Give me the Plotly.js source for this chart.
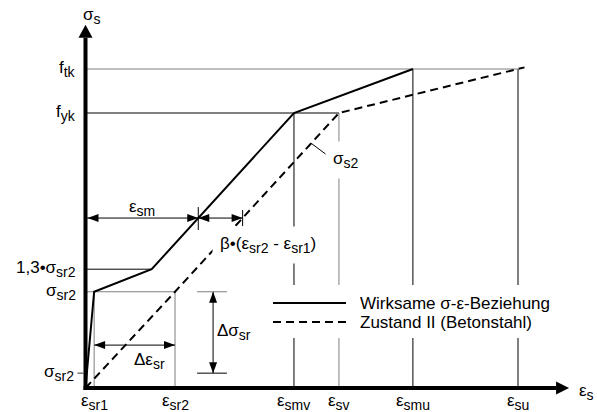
<!DOCTYPE html>
<html><head><meta charset="utf-8">
<script src="https://cdn.plot.ly/plotly-3.0.1.min.js"></script>
<style>html,body{margin:0;padding:0;background:#fff;}#chart{width:597px;height:412px;}</style>
</head><body><div id="chart"></div>
<script>
const S = t => '<sub><span style="font-size:14px">' + t + '</span></sub>';
// ---------- data (schematic units) ----------
const epsLabels = ['ε' + S('sr1'), 'ε' + S('sr2'), 'ε' + S('smv'), 'ε' + S('sv'), 'ε' + S('smu'), 'ε' + S('su')];
const epsValues = [0.2, 2.07, 4.82, 5.86, 7.57, 10.0];
const epsRefTop = [175, 175, 500, 500, 580, 580];

const sigLabels = ['f' + S('tk'), 'f' + S('yk'), '1,3•σ' + S('sr2'), 'σ' + S('sr2'), 'σ' + S('sr2')];
const sigValues = [580, 500, 216, 175, 27];
const sigRefEnd = [10.0, 5.86, 1.53, 2.07, 0];

// effective stress-strain relation (tension stiffening)
const effEps = [0, 0.2, 1.53, 4.82, 7.57];
const effSig = [0, 175, 216, 500, 580];
// state II (bare reinforcing steel)
const bareEps = [0, 2.07, 5.86, 10.15];
const bareSig = [0, 175, 500, 583];

const seriesNames = ['Wirksame σ-ε-Beziehung', 'Zustand II (Betonstahl)'];

// dimension markers
const epsSmLevel = 309;     // stress level where eps_sm is dimensioned
const dEpsLevel = 78;       // stress level of the Δε_sr dimension
const dSigAt = 2.95;        // strain position of the Δσ_sr dimension
const dSigExt = [2.58, 3.27];

// ---------- helpers ----------
function interpX(xs, ys, y) {
  for (let i = 0; i < xs.length - 1; i++) {
    if ((ys[i] - y) * (ys[i + 1] - y) <= 0 && ys[i] !== ys[i + 1]) {
      return xs[i] + (y - ys[i]) / (ys[i + 1] - ys[i]) * (xs[i + 1] - xs[i]);
    }
  }
  return null;
}
const W = 597, H = 412;
const PX = p => p / W, PY = p => 1 - p / H;
const FONT = 'Liberation Sans, Arial, sans-serif';
const GRAY = '#7f7f7f', BLACK = '#000000';

const traces = [];
function seg(x, y, color, width, dash) {
  traces.push({type: 'scatter', mode: 'lines', x: x, y: y, hoverinfo: 'skip', showlegend: false,
    line: {color: color, width: width || 1, dash: dash || 'solid'}});
}

// reference lines
const vColors = [GRAY, GRAY, BLACK, GRAY, BLACK, BLACK];
epsValues.forEach((v, i) => seg([v, v], [0, epsRefTop[i]], vColors[i]));
const hColors = [GRAY, BLACK, BLACK, GRAY, null];
sigValues.forEach((v, i) => { if (sigRefEnd[i] > 0) seg([0, sigRefEnd[i]], [v, v], hColors[i]); });

// curves
traces.push({type: 'scatter', mode: 'lines', name: seriesNames[0], x: effEps, y: effSig, showlegend: false,
  line: {color: BLACK, width: 2}});
traces.push({type: 'scatter', mode: 'lines', name: seriesNames[1], x: bareEps, y: bareSig, showlegend: false,
  line: {color: BLACK, width: 2, dash: '8px,5px'}});

// dimension lines
const eSm = interpX(effEps, effSig, epsSmLevel);
const eII = interpX(bareEps, bareSig, epsSmLevel);
seg([0, eSm], [epsSmLevel, epsSmLevel], BLACK);
seg([eSm, eII], [epsSmLevel, epsSmLevel], BLACK);
seg([epsValues[0], epsValues[1]], [dEpsLevel, dEpsLevel], BLACK);
seg([dSigAt, dSigAt], [sigValues[4], sigValues[3]], BLACK);
seg(dSigExt, [sigValues[3], sigValues[3]], GRAY);
seg(dSigExt, [sigValues[4], sigValues[4]], BLACK);

// ---------- shapes ----------
const shapes = [];
const HEADS = {
  r: 'M0,0L-11,4L-11,-4Z', l: 'M0,0L11,4L11,-4Z',
  u: 'M0,0L-4,-11L4,-11Z', d: 'M0,0L-4,11L4,11Z'
};
function head(x, y, dir, path) {
  shapes.push({type: 'path', xref: 'x', yref: 'y', xsizemode: 'pixel', ysizemode: 'pixel',
    xanchor: x, yanchor: y, path: path || HEADS[dir], fillcolor: BLACK, line: {width: 0}, layer: 'above'});
}
function pixLine(x, y, x0, y0, x1, y1, color, width) {
  shapes.push({type: 'line', xref: 'x', yref: 'y', xsizemode: 'pixel', ysizemode: 'pixel',
    xanchor: x, yanchor: y, x0: x0, y0: y0, x1: x1, y1: y1, line: {color: color, width: width || 1}, layer: 'above'});
}
const axisYTop = 637, axisXEnd = 10.88;
// axes
shapes.push({type: 'line', xref: 'x', yref: 'y', x0: 0, x1: 0, y0: -3.6, y1: axisYTop, line: {color: BLACK, width: 4}, layer: 'above'});
shapes.push({type: 'line', xref: 'x', yref: 'y', x0: -0.046, x1: axisXEnd, y0: 0, y1: 0, line: {color: BLACK, width: 4}, layer: 'above'});
head(0, axisYTop, null, 'M-7,0L7,0L0,13Z');
head(axisXEnd, 0, null, 'M0,-6.5L0,6.5L13,0Z');
// lower sigma tick
pixLine(0, sigValues[4], -8, 0, -2, 0, '#333333', 1);
// dimension heads
head(0, epsSmLevel, null, 'M2,0L13,4L13,-4Z');
head(eSm, epsSmLevel, 'r');
head(eSm, epsSmLevel, 'l');
head(eII, epsSmLevel, 'r');
pixLine(eSm, epsSmLevel, 0, 11, 0, -12, BLACK, 1);
pixLine(eII, epsSmLevel, 0, 8, 0, -8, BLACK, 1);
head(epsValues[0], dEpsLevel, 'l');
head(epsValues[1], dEpsLevel, 'r');
head(dSigAt, sigValues[3], 'u');
head(dSigAt, sigValues[4], 'd');
// sigma_s2 leader
const leadSig = 445;
const leadEps = interpX(bareEps, bareSig, leadSig);
pixLine(leadEps, leadSig, 0, 0, 16, -12, BLACK, 1);

// legend (drawn manually)
shapes.push({type: 'rect', xref: 'paper', yref: 'paper', x0: PX(265), x1: PX(548), y0: PY(338), y1: PY(285),
  fillcolor: '#ffffff', line: {width: 0}, layer: 'above'});
shapes.push({type: 'line', xref: 'paper', yref: 'paper', x0: PX(273), x1: PX(346), y0: PY(303), y1: PY(303),
  line: {color: BLACK, width: 2}, layer: 'above'});
shapes.push({type: 'line', xref: 'paper', yref: 'paper', x0: PX(273), x1: PX(346), y0: PY(322), y1: PY(322),
  line: {color: BLACK, width: 2, dash: '8px,5px'}, layer: 'above'});

// ---------- annotations ----------
const annotations = [];
function ann(text, x, y, o) {
  annotations.push(Object.assign({text: text, x: x, y: y, xref: 'x', yref: 'y', showarrow: false,
    font: {family: FONT, size: 17, color: BLACK}, xanchor: 'center', yanchor: 'middle', borderpad: 0}, o || {}));
}
// axis titles
ann('σ' + S('s'), 0, axisYTop, {xshift: 6, yshift: 22});
ann('ε' + S('s'), axisXEnd, 0, {xanchor: 'left', xshift: 22, yshift: -4});
// x tick labels
epsValues.forEach((v, i) => ann(epsLabels[i], v, 0, {yanchor: 'top', yshift: -2}));
// y tick labels
sigValues.forEach((v, i) => ann(sigLabels[i], 0, v, {xanchor: 'right', xshift: i === 4 ? -11 : -9, yshift: 0}));
// dimension labels
ann('ε' + S('sm'), eSm / 2, epsSmLevel, {yshift: 10});
ann('β•(ε' + S('sr2') + ' - ε' + S('sr1') + ')', eII, epsSmLevel, {xshift: 25, yshift: -27, bgcolor: '#ffffff', borderpad: 7});
ann('Δε' + S('sr'), (epsValues[0] + epsValues[1]) / 2, dEpsLevel, {xshift: 15, yshift: -16});
ann('Δσ' + S('sr'), dSigAt, (sigValues[3] + sigValues[4]) / 2, {xanchor: 'left', xshift: 3});
ann('σ' + S('s2'), leadEps, leadSig, {xshift: 35, yshift: -17, bgcolor: '#ffffff', borderpad: 7});
// legend texts
[303, 322].forEach((py, i) => annotations.push({text: seriesNames[i], xref: 'paper', yref: 'paper',
  x: PX(359), y: PY(py), xanchor: 'left', yanchor: 'middle', showarrow: false, borderpad: 0,
  font: {family: FONT, size: 17, color: BLACK}}));

const layout = {
  width: W, height: H, margin: {l: 0, r: 0, t: 0, b: 0, pad: 0},
  paper_bgcolor: '#ffffff', plot_bgcolor: '#ffffff', showlegend: false,
  xaxis: {range: [-85.5 / 43.25, 511.5 / 43.25], visible: false, fixedrange: true},
  yaxis: {range: [-24 / 0.55, 388 / 0.55], visible: false, fixedrange: true},
  shapes: shapes, annotations: annotations
};
Plotly.newPlot('chart', traces, layout, {displayModeBar: false, staticPlot: true});
</script>
</body></html>
